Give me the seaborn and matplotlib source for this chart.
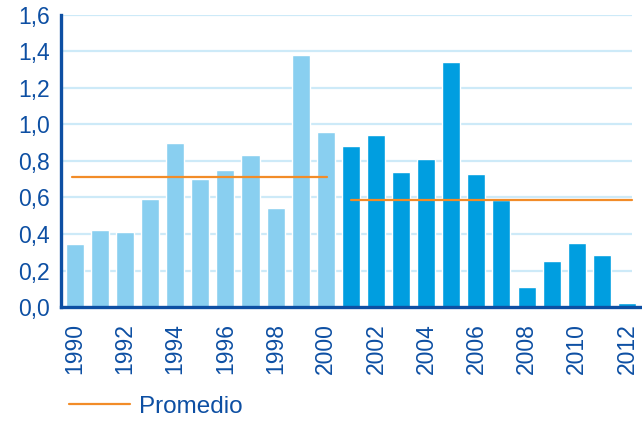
import matplotlib
matplotlib.use("Agg")
import matplotlib.pyplot as plt
import seaborn as sns
import pandas as pd
import numpy as np
from matplotlib.lines import Line2D

years = [str(y) for y in range(1990, 2013)]
values = [0.345, 0.42, 0.41, 0.59, 0.90, 0.70, 0.75, 0.83, 0.54, 1.38, 0.96,
          0.88, 0.94, 0.74, 0.81, 1.34, 0.73, 0.585, 0.11, 0.25, 0.35, 0.285, 0.022]
period = ["1990-2000"] * 11 + ["2001-2012"] * 12
tick_years = years[::2]
yticks = [0.0, 0.2, 0.4, 0.6, 0.8, 1.0, 1.2, 1.4, 1.6]
ytick_labels = ["0,0", "0,2", "0,4", "0,6", "0,8", "1,0", "1,2", "1,4", "1,6"]
legend_label = "Promedio"

df = pd.DataFrame({"year": years, "value": values, "period": period})

sns.set_theme(style="white")
plt.rcParams["font.family"] = ["Liberation Sans", "DejaVu Sans"]

navy = "#0D4FA3"
light = "#89CFF0"
dark = "#009EE0"
orange = "#F28C28"
grid = "#CDEAF8"

fig = plt.figure(figsize=(6.42, 4.23), dpi=100)
ax = fig.add_axes([0.095, 0.274, 0.905, 0.691])

sns.barplot(data=df, x="year", y="value", hue="period",
            palette={"1990-2000": light, "2001-2012": dark},
            dodge=False, width=0.72, legend=False, ax=ax, zorder=2,
            saturation=1)

# averages per period
m1 = df[df.period == "1990-2000"]["value"].mean()
m2 = df[df.period == "2001-2012"]["value"].mean()
ax.plot([-0.12, 10.05], [m1, m1], color=orange, lw=1.6, zorder=3)
ax.plot([11.0, 22.2], [m2, m2], color=orange, lw=1.6, zorder=3)

ax.set_xlim(-0.55, 22.6)
ax.set_ylim(0, 1.6)
ax.set_yticks(yticks)
ax.set_yticklabels(ytick_labels)
for y in yticks[1:]:
    ax.plot([-0.55, 22.2], [y, y], color=grid, lw=1.6, zorder=1, solid_capstyle="butt")

ax.set_xticks(range(0, 23, 2))
ax.set_xticklabels(tick_years, rotation=90)
ax.set_xticks(np.arange(-0.5, 22, 2), minor=True)
ax.tick_params(axis="x", which="major", length=0, pad=11.5, labelsize=16.5, labelcolor=navy)
ax.tick_params(axis="x", which="minor", length=6, width=2, color=navy, direction="out")
ax.tick_params(axis="y", length=5, width=2, color=navy, labelsize=16.5, labelcolor=navy, pad=3)
ax.set_xlabel("")
ax.set_ylabel("")

for s in ["top", "right"]:
    ax.spines[s].set_visible(False)
for s in ["left", "bottom"]:
    ax.spines[s].set_color(navy)
    ax.spines[s].set_linewidth(2.4)
    ax.spines[s].set_zorder(4)

handle = Line2D([0], [0], color=orange, lw=1.6)
fig.legend([handle], [legend_label], loc="center left",
           bbox_to_anchor=(69 / 642, 1 - 407 / 423),
           frameon=False, handlelength=2.5, handletextpad=0.37,
           borderpad=0, borderaxespad=0,
           prop={"size": 17.5}, labelcolor=navy)

fig.savefig("out.png", dpi=100)
